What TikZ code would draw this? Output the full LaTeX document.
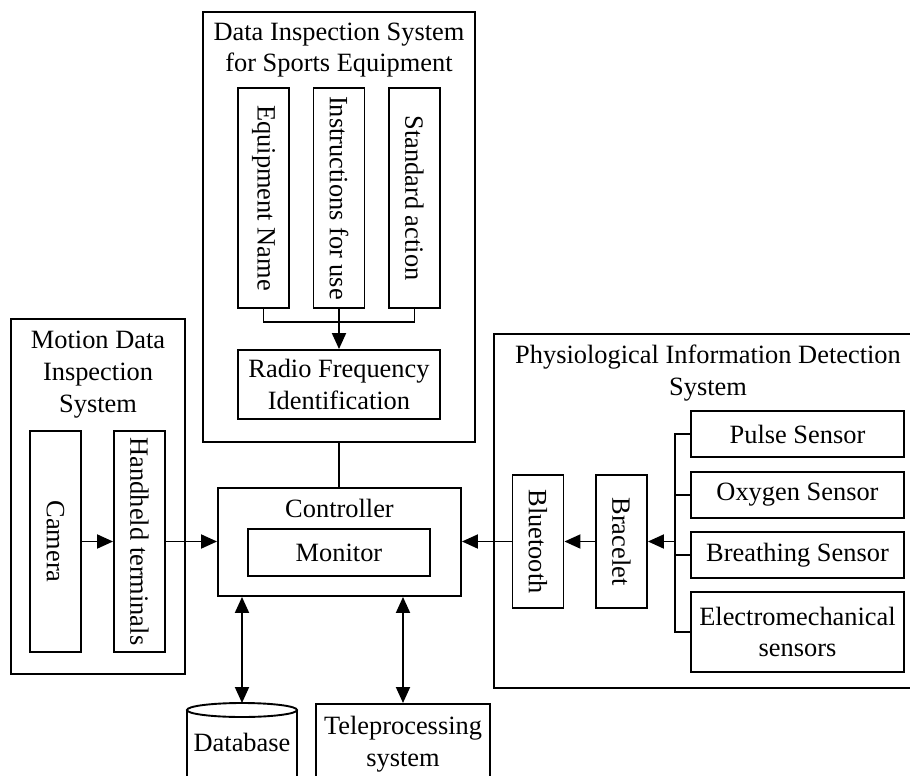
\documentclass[tikz,border=0pt]{standalone}
\usepackage{fontspec}
\setmainfont{Liberation Serif}
\usetikzlibrary{arrows.meta,shapes.geometric}
\begin{document}
\begin{tikzpicture}[x=1pt,y=-1pt,
  every node/.style={font=\fontsize{26.4}{31.8}\selectfont},
  box/.style={draw,line width=1.9pt,inner sep=0pt,align=center},
  vbox/.style={box,rotate=-90},
  lbl/.style={inner sep=0pt,align=center},
  ln/.style={line width=1.9pt},
  arr/.style={line width=1.9pt,-{Triangle[length=16pt,width=14pt]}},
  darr/.style={line width=1.9pt,{Triangle[length=16pt,width=14pt]}-{Triangle[length=16pt,width=14pt]}}]
\clip (0,0) rectangle (910,776);
% top system
\node[box,minimum width=272,minimum height=430] (T) at (339,227) {};
\node[lbl,anchor=base] (Tt) at (339,71.8) {Data Inspection System\\for Sports Equipment};
\node[vbox,minimum width=220,minimum height=51] (EN) at (263.5,198) {Equipment Name};
\node[vbox,minimum width=220,minimum height=51] (IU) at (339,198) {Instructions for use};
\node[vbox,minimum width=220,minimum height=51] (SA) at (414.5,198) {Standard action};
\node[box,minimum width=202,minimum height=69] (RF) at (339,384.5) {Radio Frequency\\Identification};
\coordinate (bus) at (339,322);
\draw[ln] (EN.east) |- (bus) -| (SA.east);
\draw[arr] (IU.east) -- (RF.north);
% controller
\node[box,minimum width=243,minimum height=108] (C) at (339.5,542) {};
\node[lbl,anchor=base] (Ct) at (339.5,517) {Controller};
\node[box,minimum width=182,minimum height=47] (M) at (339,552.5) {Monitor};
\draw[ln] (T.south) -- (T.south|-C.north);
% motion system
\node[box,minimum width=174,minimum height=355] (MB) at (98,496.5) {};
\node[lbl,anchor=base] (MBt) at (98,412.5) {Motion Data\\Inspection\\System};
\node[vbox,minimum width=221,minimum height=51] (CA) at (55.5,541.5) {Camera};
\node[vbox,minimum width=221,minimum height=51] (HH) at (139.5,541.5) {Handheld terminals};
\draw[arr] (CA.north) -- (HH.south);
\draw[arr] (HH.north) -- (HH.north-|C.west);
% physiological system
\node[box,minimum width=436,minimum height=354] (PB) at (712,511) {};
\node[lbl,anchor=base] (PBt) at (708,395.5) {Physiological Information Detection\\System};
\node[box,minimum width=213,minimum height=46] (PS) at (797.5,434) {Pulse Sensor};
\node[box,minimum width=213,minimum height=46] (OS) at (797.5,495) {Oxygen Sensor};
\node[box,minimum width=213,minimum height=46] (BS) at (797.5,555) {Breathing Sensor};
\node[box,minimum width=213,minimum height=80] (ES) at (797.5,632) {Electromechanical\\sensors};
\node[vbox,minimum width=133,minimum height=51] (BR) at (621.5,541.5) {Bracelet};
\node[vbox,minimum width=133,minimum height=51] (BT) at (538,541.5) {Bluetooth};
\coordinate (sb) at (675,541.5);
\draw[ln] (PS.west) -| (sb |- ES.west) -- (ES.west);
\draw[ln] (OS.west) -- (OS.west-|sb);
\draw[ln] (BS.west) -- (BS.west-|sb);
\draw[arr] (sb) -- (BR.north);
\draw[arr] (BR.south) -- (BT.north);
\draw[arr] (BT.south) -- (BT.south-|C.east);
% bottom: database cylinder
\coordinate (DBtop) at (242,703);
\draw[ln] (242,710) ellipse [x radius=55, y radius=7];
\draw[ln] (187,710) -- (187,800) (297,710) -- (297,800);
\node[lbl,anchor=base] (DB) at (242,751.7) {Database};
\node[box,minimum width=174,minimum height=100,anchor=north] (TP) at (403,703) {};
\node[lbl,anchor=base] (TPt) at (403,766.5) {Teleprocessing\\system};
\draw[darr] (C.south-|DBtop) -- (DBtop);
\draw[darr] (C.south-|TP.north) -- (TP.north);
\end{tikzpicture}
\end{document}
